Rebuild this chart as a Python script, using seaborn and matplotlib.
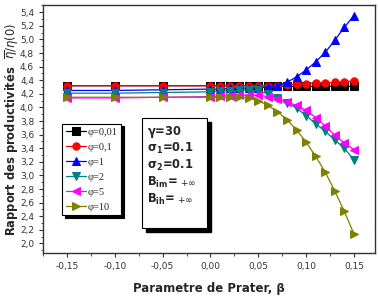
import numpy as np
import pandas as pd
import matplotlib
matplotlib.use("Agg")
import matplotlib.pyplot as plt
import seaborn as sns
from matplotlib.patches import Rectangle
from matplotlib.ticker import FuncFormatter, MultipleLocator

# === Data ===
beta = [-0.15, -0.10, -0.05, 0.00, 0.01, 0.02, 0.03, 0.04, 0.05, 0.06,
        0.07, 0.08, 0.09, 0.10, 0.11, 0.12, 0.13, 0.14, 0.15]

phi_001 = [4.32, 4.32, 4.32, 4.32, 4.32, 4.32, 4.32, 4.32, 4.32, 4.32,
           4.32, 4.31, 4.31, 4.31, 4.31, 4.31, 4.31, 4.31, 4.31]
phi_01 = [4.32, 4.32, 4.32, 4.32, 4.32, 4.32, 4.32, 4.32, 4.32, 4.32,
          4.32, 4.33, 4.34, 4.35, 4.36, 4.36, 4.37, 4.38, 4.39]
phi_1 = [4.25, 4.25, 4.26, 4.27, 4.27, 4.28, 4.28, 4.29, 4.29, 4.30,
         4.32, 4.37, 4.45, 4.55, 4.67, 4.81, 4.99, 5.18, 5.35]
phi_2 = [4.21, 4.21, 4.22, 4.23, 4.24, 4.24, 4.25, 4.25, 4.25, 4.20,
         4.14, 4.07, 3.99, 3.88, 3.76, 3.65, 3.52, 3.40, 3.23]
phi_5 = [4.14, 4.14, 4.15, 4.16, 4.17, 4.17, 4.18, 4.18, 4.18, 4.16,
         4.13, 4.08, 4.03, 3.96, 3.85, 3.73, 3.59, 3.48, 3.38]
phi_10 = [4.15, 4.15, 4.15, 4.15, 4.15, 4.15, 4.15, 4.14, 4.10, 4.03,
          3.94, 3.82, 3.67, 3.49, 3.28, 3.05, 2.77, 2.47, 2.14]

labels = ["\u03c6=0,01", "\u03c6=0,1", "\u03c6=1", "\u03c6=2", "\u03c6=5", "\u03c6=10"]
series = [phi_001, phi_01, phi_1, phi_2, phi_5, phi_10]
colors = ["black", "red", "blue", "#008080", "#ff00ff", "#808000"]
markers = ["s", "o", "^", "v", "<", ">"]

# === Plot ===
sns.set_style("white")
plt.rcParams['font.family'] = ['DejaVu Sans']
fig = plt.figure(figsize=(3.78, 2.98), dpi=100)
ax = fig.add_axes([0.114, 0.150, 0.878, 0.833])

for vals, lab, c, m in zip(series, labels, colors, markers):
    df = pd.DataFrame({"beta": beta, "val": vals})
    sns.lineplot(data=df, x="beta", y="val", color=c, marker=m, markersize=5.3,
                 markeredgecolor=c, linewidth=0.9, label=lab, ax=ax)

ax.set_xlim(-0.175, 0.172)
ax.set_ylim(1.855, 5.506)
ax.xaxis.set_major_locator(MultipleLocator(0.05))
ax.xaxis.set_minor_locator(MultipleLocator(0.025))
ax.yaxis.set_major_locator(MultipleLocator(0.2))
ax.yaxis.set_minor_locator(MultipleLocator(0.1))
ax.xaxis.set_major_formatter(FuncFormatter(lambda v, p: f"{v:.2f}".replace(".", ",").replace("-0,00", "0,00")))
ax.yaxis.set_major_formatter(FuncFormatter(lambda v, p: f"{v:.1f}".replace(".", ",")))
ax.tick_params(axis="both", which="major", direction="out", length=3, width=0.8,
               labelsize=6.5, colors="#333333", bottom=True, left=True)
ax.tick_params(axis="both", which="minor", direction="out", length=1.8, width=0.6,
               bottom=True, left=True, colors="#333333")
for s in ax.spines.values():
    s.set_color("#333333")
    s.set_linewidth(1.0)

ax.set_xlabel("Parametre de Prater, \u03b2", fontsize=8.5, fontweight="bold", labelpad=8)
ax.set_ylabel(r"Rapport des productivités  $\overline{\eta}/\eta(0)$", fontsize=8.3,
              fontweight="bold")
ax.yaxis.set_label_coords(-0.07, 0.5)

leg = ax.legend(loc="upper left", bbox_to_anchor=(0.057, 0.522), frameon=True,
                fancybox=False, shadow={"color": "black", "alpha": 1},
                prop={"family": "Liberation Serif", "size": 7.5},
                handlelength=2.0, handletextpad=0.1, labelspacing=0.55,
                borderpad=0.35, borderaxespad=0)
leg.get_frame().set_edgecolor("black")
leg.get_frame().set_linewidth(0.8)

# parameter box with shadow
bx0, by0, bw, bh = 0.298, 0.10, 0.196, 0.444
ax.add_patch(Rectangle((bx0 + 0.012, by0 - 0.014), bw, bh, transform=ax.transAxes,
                       facecolor="black", edgecolor="black", zorder=5))
ax.add_patch(Rectangle((bx0, by0), bw, bh, transform=ax.transAxes,
                       facecolor="white", edgecolor="black", linewidth=0.8, zorder=6))
params = [r"$\mathbf{\gamma}$=30", r"$\mathbf{\sigma_1}$=0.1", r"$\mathbf{\sigma_2}$=0.1",
          r"$\mathbf{B_{im}}$=", r"$\mathbf{B_{ih}}$="]
for i, t in enumerate(params):
    yy = by0 + bh - 0.055 - i * 0.068
    txt = ax.text(bx0 + 0.016, yy, t, transform=ax.transAxes, fontsize=8.3,
                  fontweight="bold", va="center", ha="left", zorder=7)
    if i >= 3:
        ax.annotate(r"$+\infty$", xy=(1.0, 0.45), xycoords=txt, xytext=(1, 0),
                    textcoords="offset points", fontsize=6.5, va="center",
                    ha="left", zorder=7)

plt.savefig("out.png", dpi=100)
